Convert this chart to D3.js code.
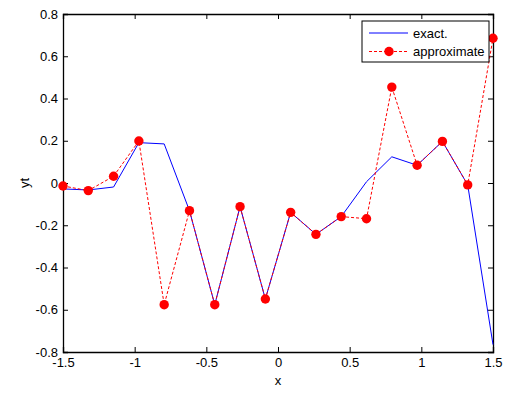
<!DOCTYPE html>
<html>
<head>
<meta charset="utf-8">
<script src="https://cdn.jsdelivr.net/npm/d3@7"></script>
<style>
  body { margin: 0; background: #fff; }
  svg text { font-family: "Liberation Sans", Arial, sans-serif; }
</style>
</head>
<body>
<svg id="chart" width="521" height="399"></svg>
<script>
// sample points (linspace(-1.5, 1.5, 18))
const xs = [-1.5, -1.3235, -1.1471, -0.9706, -0.7941, -0.6176, -0.4412, -0.2647, -0.0882,
    0.0882, 0.2647, 0.4412, 0.6176, 0.7941, 0.9706, 1.1471, 1.3235, 1.5];
const exactY = [-0.028, -0.033, -0.019, 0.191, 0.185, -0.131, -0.576, -0.112, -0.549,
    -0.139, -0.243, -0.159, 0.006, 0.124, 0.084, 0.197, -0.009, -0.765];
const approxY = [-0.014, -0.036, 0.032, 0.199, -0.576, -0.131, -0.576, -0.112, -0.549,
    -0.139, -0.243, -0.159, -0.169, 0.454, 0.084, 0.197, -0.009, 0.685];
const xTicks = [-1.5, -1, -0.5, 0, 0.5, 1, 1.5];
const yTicks = [-0.8, -0.6, -0.4, -0.2, 0, 0.2, 0.4, 0.6, 0.8];
const legendLabels = ["exact.", "approximate"];

const svg = d3.select("#chart");
const mLeft = 63, mRight = 493, mTop = 14, mBottom = 352;

const x = d3.scaleLinear().domain([-1.5, 1.5]).range([mLeft, mRight]);
const y = d3.scaleLinear().domain([-0.8, 0.8]).range([mBottom, mTop]);

// axes (ticks pointing inward, MATLAB style box), plain hyphen for minus
const fmt = d => String(d);
svg.append("g")
    .attr("transform", `translate(0,${mBottom})`)
    .call(d3.axisBottom(x).tickValues(xTicks).tickSize(-5).tickPadding(6).tickFormat(fmt));
svg.append("g")
    .attr("transform", `translate(0,${mTop})`)
    .call(d3.axisTop(x).tickValues(xTicks).tickSize(-5).tickFormat(""));
svg.append("g")
    .attr("transform", `translate(${mLeft},0)`)
    .call(d3.axisLeft(y).tickValues(yTicks).tickSize(-5).tickPadding(5).tickFormat(fmt));
svg.append("g")
    .attr("transform", `translate(${mRight},0)`)
    .call(d3.axisRight(y).tickValues(yTicks).tickSize(-5).tickFormat(""));

svg.selectAll(".domain").attr("stroke", "#000").attr("stroke-width", 1.3);
svg.selectAll(".tick line").attr("stroke", "#000");
svg.selectAll(".tick text").attr("fill", "#000").style("font-size", "13px");

// axis labels
svg.append("text")
    .attr("x", (mLeft + mRight) / 2).attr("y", 385)
    .attr("text-anchor", "middle")
    .style("font-size", "13px")
    .text("x");
svg.append("text")
    .attr("transform", `translate(29,${y(0)}) rotate(-90)`)
    .attr("text-anchor", "middle")
    .style("font-size", "13px")
    .text("yt");

const line = d3.line().x(d => x(d[0])).y(d => y(d[1]));

svg.append("path")
    .datum(xs.map((v, i) => [v, exactY[i]]))
    .attr("d", line)
    .attr("fill", "none")
    .attr("stroke", "#0000ff")
    .attr("stroke-width", 1);

const approx = xs.map((v, i) => [v, approxY[i]]);
svg.append("path")
    .datum(approx)
    .attr("d", line)
    .attr("fill", "none")
    .attr("stroke", "#ff0000")
    .attr("stroke-width", 1)
    .attr("stroke-dasharray", "3,2");

svg.append("g").selectAll("circle")
    .data(approx)
    .join("circle")
    .attr("cx", d => x(d[0]))
    .attr("cy", d => y(d[1]))
    .attr("r", 4.7)
    .attr("fill", "#ff0000");

// legend
const lg = svg.append("g").attr("transform", "translate(362,21)");
lg.append("rect")
    .attr("width", 127).attr("height", 41)
    .attr("fill", "#fff").attr("stroke", "#000").attr("stroke-width", 1);
lg.append("line")
    .attr("x1", 7).attr("x2", 46).attr("y1", 12).attr("y2", 12)
    .attr("stroke", "#0000ff");
lg.append("line")
    .attr("x1", 7).attr("x2", 46).attr("y1", 30.5).attr("y2", 30.5)
    .attr("stroke", "#ff0000").attr("stroke-dasharray", "3,2");
lg.append("circle").attr("cx", 27).attr("cy", 30.5).attr("r", 4.7).attr("fill", "#ff0000");
lg.selectAll("text.lab")
    .data(legendLabels)
    .join("text")
    .attr("class", "lab")
    .attr("x", 51)
    .attr("y", (d, i) => 12 + i * 18.5)
    .attr("dy", "0.35em")
    .style("font-size", "13px")
    .text(d => d);
</script>
</body>
</html>
